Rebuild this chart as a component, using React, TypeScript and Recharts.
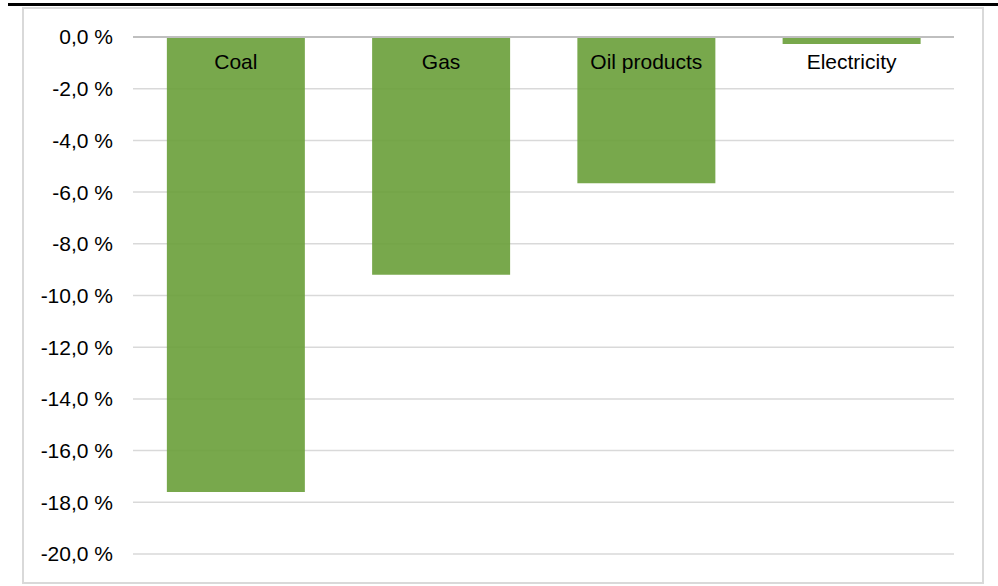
import React from "react";
import { BarChart, Bar, XAxis, YAxis, CartesianGrid, ReferenceLine, LabelList } from "recharts";

const categories = ["Coal", "Gas", "Oil products", "Electricity"];
const changePct = [-17.6, -9.2, -5.66, -0.27];
const yTicks = [0, -2, -4, -6, -8, -10, -12, -14, -16, -18, -20];

const data = categories.map((name, i) => ({ name, value: changePct[i] }));

const FONT = '"Liberation Sans", Arial, sans-serif';

const fmt = (v: number) => `${Math.abs(v) < 1e-9 ? "0,0" : v.toFixed(1).replace(".", ",")} %`;

const CatLabel = (props: any) => {
  const { x, y, width, height, value } = props;
  const top = Math.min(Number(y), Number(y) + Number(height));
  return (
    <text
      x={Number(x) + Number(width) / 2}
      y={top + 25}
      dy="0.35em"
      textAnchor="middle"
      fontFamily={FONT}
      fontSize={21}
      fill="#000"
    >
      {value}
    </text>
  );
};

export default function App() {
  return (
    <div style={{ position: "absolute", left: 0, top: 0, width: 998, height: 586, background: "#fff" }}>
      <div style={{ position: "absolute", left: 8, top: 3, width: 990, height: 3, background: "#000" }} />
      <div
        style={{
          position: "absolute",
          left: 22,
          top: 7,
          width: 958,
          height: 573,
          border: "2px solid #d9d9d9",
        }}
      />
      <div style={{ position: "absolute", left: 0, top: 0 }}>
        <BarChart
          width={998}
          height={586}
          data={data}
          margin={{ top: 37, right: 44, bottom: 32, left: 0 }}
          barCategoryGap="16.5%"
        >
          <CartesianGrid horizontal vertical={false} stroke="#d9d9d9" strokeWidth={1.5} />
          <XAxis dataKey="name" hide />
          <YAxis
            width={133}
            domain={[-20, 0]}
            ticks={yTicks}
            tickFormatter={fmt}
            tickLine={false}
            axisLine={false}
            tickSize={0}
            tickMargin={20}
            tick={{ fontFamily: FONT, fontSize: 21, fill: "#000" }}
            interval={0}
          />
          <ReferenceLine y={0} stroke="#bfbfbf" strokeWidth={2} />
          <Bar dataKey="value" fill="#699e38" fillOpacity={0.9} isAnimationActive={false}>
            <LabelList dataKey="name" content={<CatLabel />} />
          </Bar>
        </BarChart>
      </div>
    </div>
  );
}
